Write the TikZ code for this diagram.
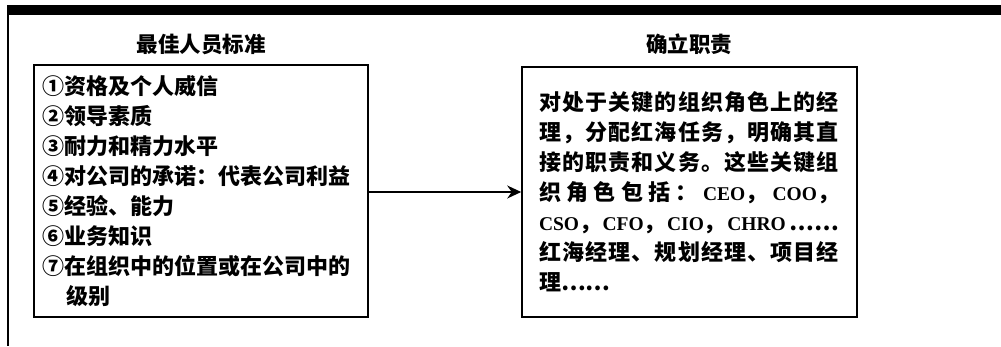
\documentclass[tikz,border=0pt]{standalone}
\usepackage{fontspec}
\newfontfamily\cjk{Noto Sans CJK SC}
\newfontfamily\lat{Liberation Serif}
\usetikzlibrary{arrows.meta}
\newcommand\cnum[1]{\makebox[1em][c]{#1}}
\newcommand\la[1]{{\lat\bfseries\fontsize{19.5}{30}\selectfont #1}}
\tikzset{
  box/.style={draw, line width=1.6pt, rectangle, inner sep=0pt},
  boxtext/.style={font=\cjk\bfseries\fontsize{22}{30}\selectfont},
  title/.style={font=\cjk\bfseries\fontsize{21.5}{26}\selectfont, inner sep=0pt},
  conn/.style={line width=1.4pt, -{Stealth[length=14pt,width=13pt]}}
}
\begin{document}
\begin{tikzpicture}[x=1pt,y=-1pt]
\useasboundingbox (0,0) rectangle (1001,346);
% frame
\fill (7,5) rectangle (1001,15);
\draw[line width=2pt] (8,5) -- (8,346);
% titles
\node[title] (t1) at (201,44) {最佳人员标准};
\node[title] (t2) at (689,44) {确立职责};
% left box
\node[box, boxtext, minimum width=334pt, minimum height=252pt, text width=317pt, align=left] (L) at (201,191) {%
\cnum{①}资格及个人威信\\
\cnum{②}领导素质\\
\cnum{③}耐力和精力水平\\
\cnum{④}对公司的承诺：代表公司利益\\
\cnum{⑤}经验、能力\\
\cnum{⑥}业务知识\\
\cnum{⑦}在组织中的位置或在公司中的\\
\hspace*{1.1em}级别};
% right box
\node[box, boxtext, minimum width=335pt, minimum height=250pt, text width=301pt, align=left] (R) at (689.5,192) {%
\makebox[300pt][s]{对\hfil 处\hfil 于\hfil 关\hfil 键\hfil 的\hfil 组\hfil 织\hfil 角\hfil 色\hfil 上\hfil 的\hfil 经}\\
\makebox[300pt][s]{理\hfil ，\hfil 分\hfil 配\hfil 红\hfil 海\hfil 任\hfil 务\hfil ，\hfil 明\hfil 确\hfil 其\hfil 直}\\
\makebox[300pt][s]{接\hfil 的\hfil 职\hfil 责\hfil 和\hfil 义\hfil 务\hfil 。\hfil 这\hfil 些\hfil 关\hfil 键\hfil 组}\\
\makebox[300pt][s]{织\hfill 角\hfill 色\hfill 包\hfill 括\hfill ：\hfill \la{CEO}，\hfill \la{COO}，}\\
\makebox[300pt][s]{\la{CSO}，\hfill \la{CFO}，\hfill \la{CIO}，\hfill \la{CHRO}\,……}\\
\makebox[300pt][s]{红\hfil 海\hfil 经\hfil 理\hfil 、\hfil 规\hfil 划\hfil 经\hfil 理\hfil 、\hfil 项\hfil 目\hfil 经}\\
理……};
% arrow
\draw[conn] (L.east |- 0,192) -- (R.west |- 0,192);
\end{tikzpicture}
\end{document}
